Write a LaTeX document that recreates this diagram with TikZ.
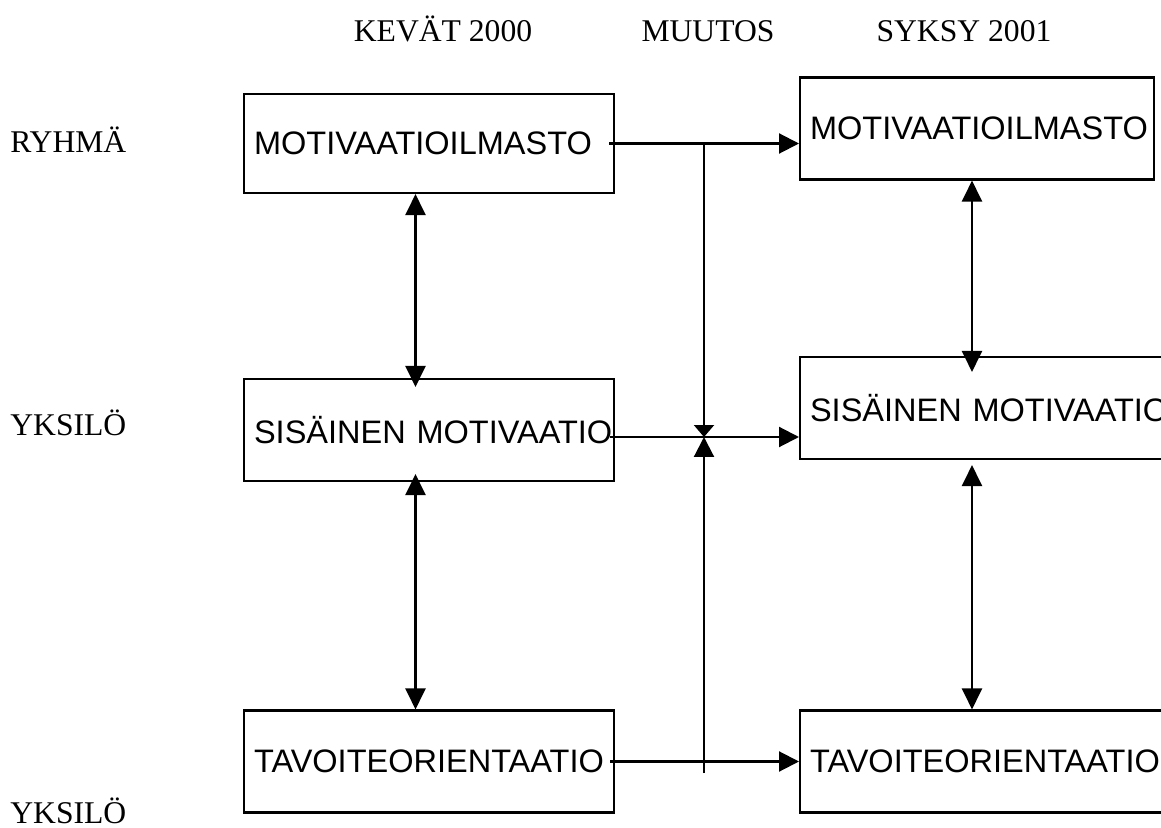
\documentclass[tikz,border=0pt]{standalone}
\usepackage{fontspec}
\setmainfont{Liberation Serif}
\setsansfont{Liberation Sans}
\usepackage{tikz}
\usetikzlibrary{arrows.meta, positioning, calc}

\tikzset{
  box/.style={draw, line width=1.2pt, anchor=west, font=\sffamily\fontsize{18.5}{22}\selectfont,
    minimum height=2.04cm, inner xsep=0.2cm, text width=7cm, align=left},
  sidelabel/.style={anchor=base west, inner sep=0pt, font=\fontsize{18}{22}\selectfont},
  headlabel/.style={anchor=base, inner sep=0pt, font=\fontsize{18}{22}\selectfont},
  conn/.style={line width=1.2pt, -{Triangle[length=0.4cm,width=0.4cm]}},
  dbl/.style={line width=1.2pt, {Triangle[length=0.42cm,width=0.4cm]}-{Triangle[length=0.42cm,width=0.4cm]}}
}

\begin{document}
\begin{tikzpicture}[x=0.02cm, y=-0.02cm]
  \useasboundingbox (0,0) rectangle (1161,828);

  % Column headings
  \node[headlabel] (kevat) at (443,42) {KEVÄT 2000};
  \node[headlabel] (muutos) at (708,42) {MUUTOS};
  \node[headlabel] (syksy) at (964,42) {SYKSY 2001};

  % Row labels
  \node[sidelabel] (ryhma) at (10,153) {RYHMÄ};
  \node[sidelabel] (yksilo1) at (10,435) {YKSILÖ};
  \node[sidelabel] (yksilo2) at (10,823) {YKSILÖ};

  % Spring 2000 boxes
  \node[box, minimum height=1.98cm] (l1) at (243,143.5) {MOTIVAATIOILMASTO};
  \node[box] (l2) at (243,430) {\mbox{SISÄINEN MOTIVAATIO}};
  \node[box] (l3) at (243,761.5) {TAVOITEORIENTAATIO};

  % Autumn 2001 boxes (partly cut by the page edge)
  \node[box, text width=6.68cm] (r1) at (799,128.5) {MOTIVAATIOILMASTO};
  \node[box, text width=7.2cm] (r2) at (799,408) {\mbox{SISÄINEN MOTIVAATIO}};
  \node[box, text width=7.2cm] (r3) at (799,761.5) {TAVOITEORIENTAATIO};

  % Helper columns
  \coordinate (lx) at (415.5,0);
  \coordinate (rx) at (972,0);
  \coordinate (mu) at (704,0);
  \coordinate (mubot) at (704,773);

  % Links inside each column
  \draw[dbl, shorten >=-0.18cm] (l1.south -| lx) -- (l2.north -| lx);
  \draw[dbl, shorten <=-0.16cm] (l2.south -| lx) -- (l3.north -| lx);
  \draw[dbl, shorten >=-0.32cm] (r1.south -| rx) -- (r2.north -| rx);
  \draw[dbl, shorten <=0.1cm] (r2.south -| rx) -- (r3.north -| rx);

  % Change arrows
  \draw[conn] ([xshift=-0.12cm]l1.east) -- (l1.east -| r1.west);
  \draw[conn] ([xshift=-0.1cm, yshift=-0.14cm]l2.east) coordinate (m2) -- (m2 -| r2.west);
  \draw[conn] ([xshift=-0.1cm]l3.east) -- (l3.east -| r3.west);

  % Vertical change line
  \draw[line width=1.2pt, -{Triangle[length=0.24cm,width=0.4cm]}] (l1.east -| mu) -- (m2 -| mu);
  \draw[line width=1.2pt, -{Triangle[length=0.4cm,width=0.4cm]}] (mubot) -- (m2 -| mu);
\end{tikzpicture}
\end{document}
